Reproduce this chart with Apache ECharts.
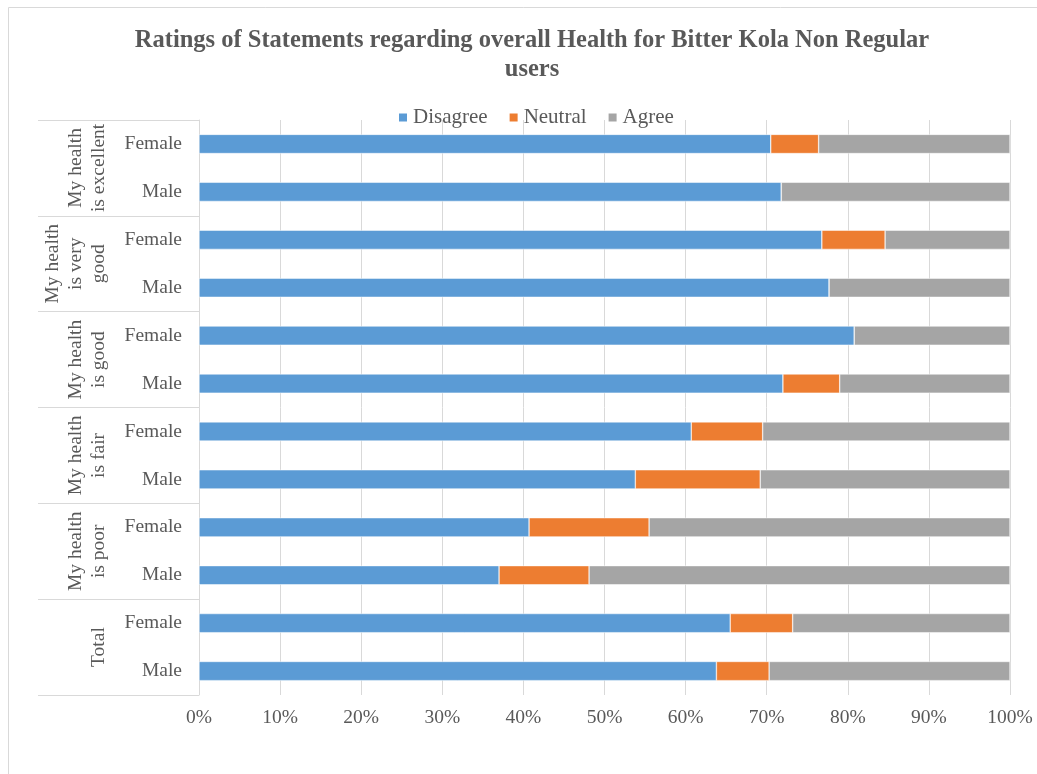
<!DOCTYPE html>
<html>
<head>
<meta charset="utf-8">
<script src="https://cdn.jsdelivr.net/npm/echarts@6/dist/echarts.min.js"></script>
<style>
  html, body { margin: 0; padding: 0; background: #fff; }
  #chart { width: 1037px; height: 774px; }
</style>
</head>
<body>
<div id="chart"></div>
<script>
// bars, top to bottom
var genders = ['Female', 'Male', 'Female', 'Male', 'Female', 'Male',
               'Female', 'Male', 'Female', 'Male', 'Female', 'Male'];
var groups = ['My health\nis excellent', 'My health\nis very\ngood', 'My health\nis good',
              'My health\nis fair', 'My health\nis poor', 'Total'];
var disagree = [70.5, 71.8, 76.8, 77.7, 80.8, 72.0, 60.7, 53.8, 40.7, 37.0, 65.5, 63.8];
var neutral  = [5.9, 0, 7.8, 0, 0, 7.0, 8.8, 15.4, 14.8, 11.1, 7.7, 6.5];
var agree    = [23.6, 28.2, 15.4, 22.3, 19.2, 21.0, 30.5, 30.8, 44.5, 51.9, 26.8, 29.7];
var xTicks = [0, 10, 20, 30, 40, 50, 60, 70, 80, 90, 100];

var serif = '"Liberation Serif", "Times New Roman", serif';
var txt = '#595959';
var grey = '#d9d9d9';

var chart = echarts.init(document.getElementById('chart'));

function bar(name, data, color) {
  return {
    name: name,
    type: 'bar',
    stack: 'all',
    barWidth: '40%',
    data: data,
    itemStyle: { color: color, borderColor: '#fff', borderWidth: 0.5 }
  };
}

chart.setOption({
  animation: false,
  textStyle: { fontFamily: serif },
  title: {
    text: 'Ratings of Statements regarding overall Health for Bitter Kola Non Regular\nusers',
    left: 527,
    textAlign: 'center',
    top: 21,
    textStyle: { fontFamily: serif, fontSize: 24.5, fontWeight: 'bold', color: txt, lineHeight: 29 }
  },
  legend: {
    top: 102,
    left: 392,
    icon: 'rect',
    itemWidth: 10,
    itemHeight: 10,
    itemGap: 20,
    textStyle: { fontFamily: serif, fontSize: 21, color: txt },
    data: ['Disagree', 'Neutral', 'Agree']
  },
  graphic: [{
    type: 'rect',
    shape: { x: 8.5, y: 7.5, width: 1100, height: 900 },
    style: { fill: null, stroke: grey, lineWidth: 1 },
    silent: true
  }],
  grid: { left: 199, right: 27, top: 120, bottom: 79 },
  xAxis: {
    type: 'value',
    min: xTicks[0],
    max: xTicks[xTicks.length - 1],
    interval: 10,
    axisLine: { show: false },
    axisTick: { show: false },
    axisLabel: { formatter: '{value}%', fontFamily: serif, fontSize: 19.5, color: txt, margin: 13 },
    splitLine: { lineStyle: { color: grey, width: 1 } }
  },
  yAxis: [{
    type: 'category',
    inverse: true,
    data: genders,
    axisLine: { lineStyle: { color: grey } },
    axisTick: { show: false },
    axisLabel: { interval: 0, fontFamily: serif, fontSize: 19.5, color: txt, margin: 17 }
  }, {
    type: 'category',
    inverse: true,
    position: 'left',
    data: groups,
    axisLine: { show: false },
    axisTick: { show: true, length: 161, lineStyle: { color: grey } },
    axisLabel: { interval: 0, rotate: 90, fontFamily: serif, fontSize: 19.5, lineHeight: 23,
                 color: txt, margin: 89, align: 'center' }
  }],
  series: [
    bar('Disagree', disagree, '#5B9BD5'),
    bar('Neutral', neutral, '#ED7D31'),
    bar('Agree', agree, '#A5A5A5')
  ]
});
</script>
</body>
</html>
